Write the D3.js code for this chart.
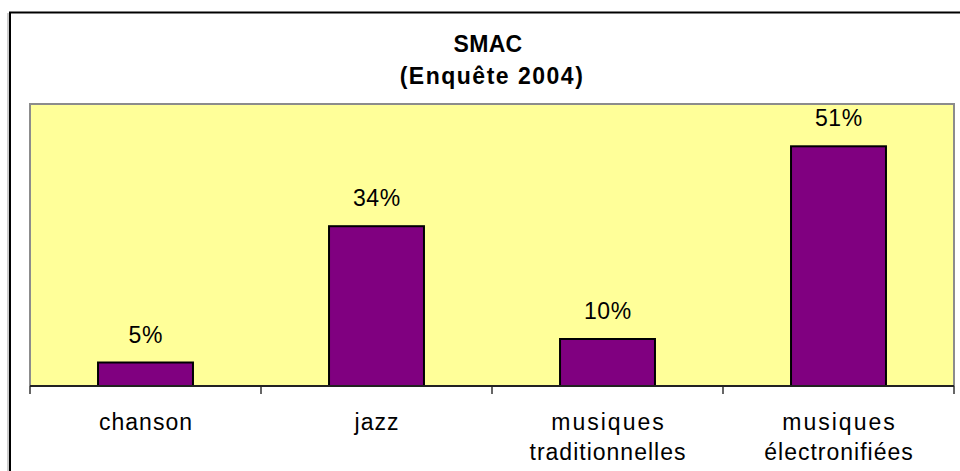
<!DOCTYPE html>
<html>
<head>
<meta charset="utf-8">
<script src="https://cdn.jsdelivr.net/npm/d3@7"></script>
<style>
  body { margin: 0; background: #fff; }
  svg { display: block; font-family: "Liberation Sans", Arial, sans-serif; }
</style>
</head>
<body>
<div id="chart"></div>
<script>
// data
var categories = ["chanson", "jazz", "musiques traditionnelles", "musiques électronifiées"];
var labelLines = [["chanson"], ["jazz"], ["musiques", "traditionnelles"], ["musiques", "électronifiées"]];
var values = [0.05, 0.34, 0.10, 0.51];
var titleLines = ["SMAC", "(Enquête 2004)"];

var fullWidth = 960, fullHeight = 471;
var plot = {left: 30, top: 104, right: 954, bottom: 386};

var svg = d3.select("#chart").append("svg")
    .attr("width", fullWidth)
    .attr("height", fullHeight);

// outer chart frame (cropped at right / bottom)
svg.append("line")
    .attr("x1", 8).attr("x2", 8).attr("y1", 13).attr("y2", fullHeight)
    .attr("stroke", "#999").attr("stroke-width", 1);
svg.append("rect")
    .attr("x", 10).attr("y", 12.5)
    .attr("width", fullWidth + 10).attr("height", fullHeight + 10)
    .attr("fill", "none").attr("stroke", "#000").attr("stroke-width", 2);

// title
svg.append("g").selectAll("text")
    .data(titleLines)
  .enter().append("text")
    .attr("x", function(d, i) { return i === 0 ? 488 : 492; })
    .attr("y", function(d, i) { return 52 + i * 32; })
    .attr("text-anchor", "middle")
    .style("font-size", "23px")
    .style("font-weight", "bold")
    .style("letter-spacing", function(d, i) { return i === 0 ? "0.3px" : "1.5px"; })
    .text(function(d) { return d; });

var xScale = d3.scaleBand()
    .domain(categories)
    .range([plot.left, plot.right])
    .paddingInner(0.589)
    .paddingOuter(0.2945);

var yScale = d3.scaleLinear()
    .domain([0, 0.6])
    .range([plot.bottom, plot.top]);

// plot area
svg.append("rect")
    .attr("x", plot.left).attr("y", plot.top)
    .attr("width", plot.right - plot.left)
    .attr("height", plot.bottom - plot.top)
    .attr("fill", "#ffff99")
    .attr("stroke", "#8c8c8c")
    .attr("stroke-width", 2);

// bars
svg.append("g").selectAll("rect")
    .data(values)
  .enter().append("rect")
    .attr("x", function(d, i) { return xScale(categories[i]); })
    .attr("y", function(d) { return yScale(d); })
    .attr("width", xScale.bandwidth())
    .attr("height", function(d) { return yScale(0) - yScale(d); })
    .attr("fill", "#800080")
    .attr("stroke", "#000")
    .attr("stroke-width", 2);

// value labels
svg.append("g").selectAll("text")
    .data(values)
  .enter().append("text")
    .attr("x", function(d, i) { return xScale(categories[i]) + xScale.bandwidth() / 2 + 0.3; })
    .attr("y", function(d) { return yScale(d) - 20; })
    .attr("text-anchor", "middle")
    .style("font-size", "23px")
    .style("letter-spacing", "0.6px")
    .text(function(d) { return d3.format(".0%")(d); });

// x axis: category boundaries as ticks
var step = xScale.step();
var bounds = d3.range(categories.length + 1).map(function(i) { return plot.left + i * step; });
svg.append("g").selectAll("line")
    .data(bounds)
  .enter().append("line")
    .attr("x1", function(d) { return d; })
    .attr("x2", function(d) { return d; })
    .attr("y1", plot.bottom)
    .attr("y2", plot.bottom + 8)
    .attr("stroke", "#666")
    .attr("stroke-width", 2);

svg.append("line")
    .attr("x1", plot.left).attr("x2", plot.right)
    .attr("y1", plot.bottom).attr("y2", plot.bottom)
    .attr("stroke", "#222")
    .attr("stroke-width", 2);

// category labels
var catLabels = svg.append("g").selectAll("text")
    .data(categories)
  .enter().append("text")
    .attr("x", function(d) { return xScale(d) + xScale.bandwidth() / 2; })
    .attr("y", 430)
    .attr("text-anchor", "middle")
    .style("font-size", "23px");

catLabels.selectAll("tspan")
    .data(function(d, i) { return labelLines[i]; })
  .enter().append("tspan")
    .attr("x", function(d) {
      var ls = d === "musiques" ? 2 : 1;
      return +d3.select(this.parentNode).attr("x") + ls / 2;
    })
    .attr("dy", function(d, i) { return i === 0 ? 0 : 30; })
    .style("letter-spacing", function(d) { return d === "musiques" ? "2px" : "1px"; })
    .text(function(d) { return d; });
</script>
</body>
</html>
